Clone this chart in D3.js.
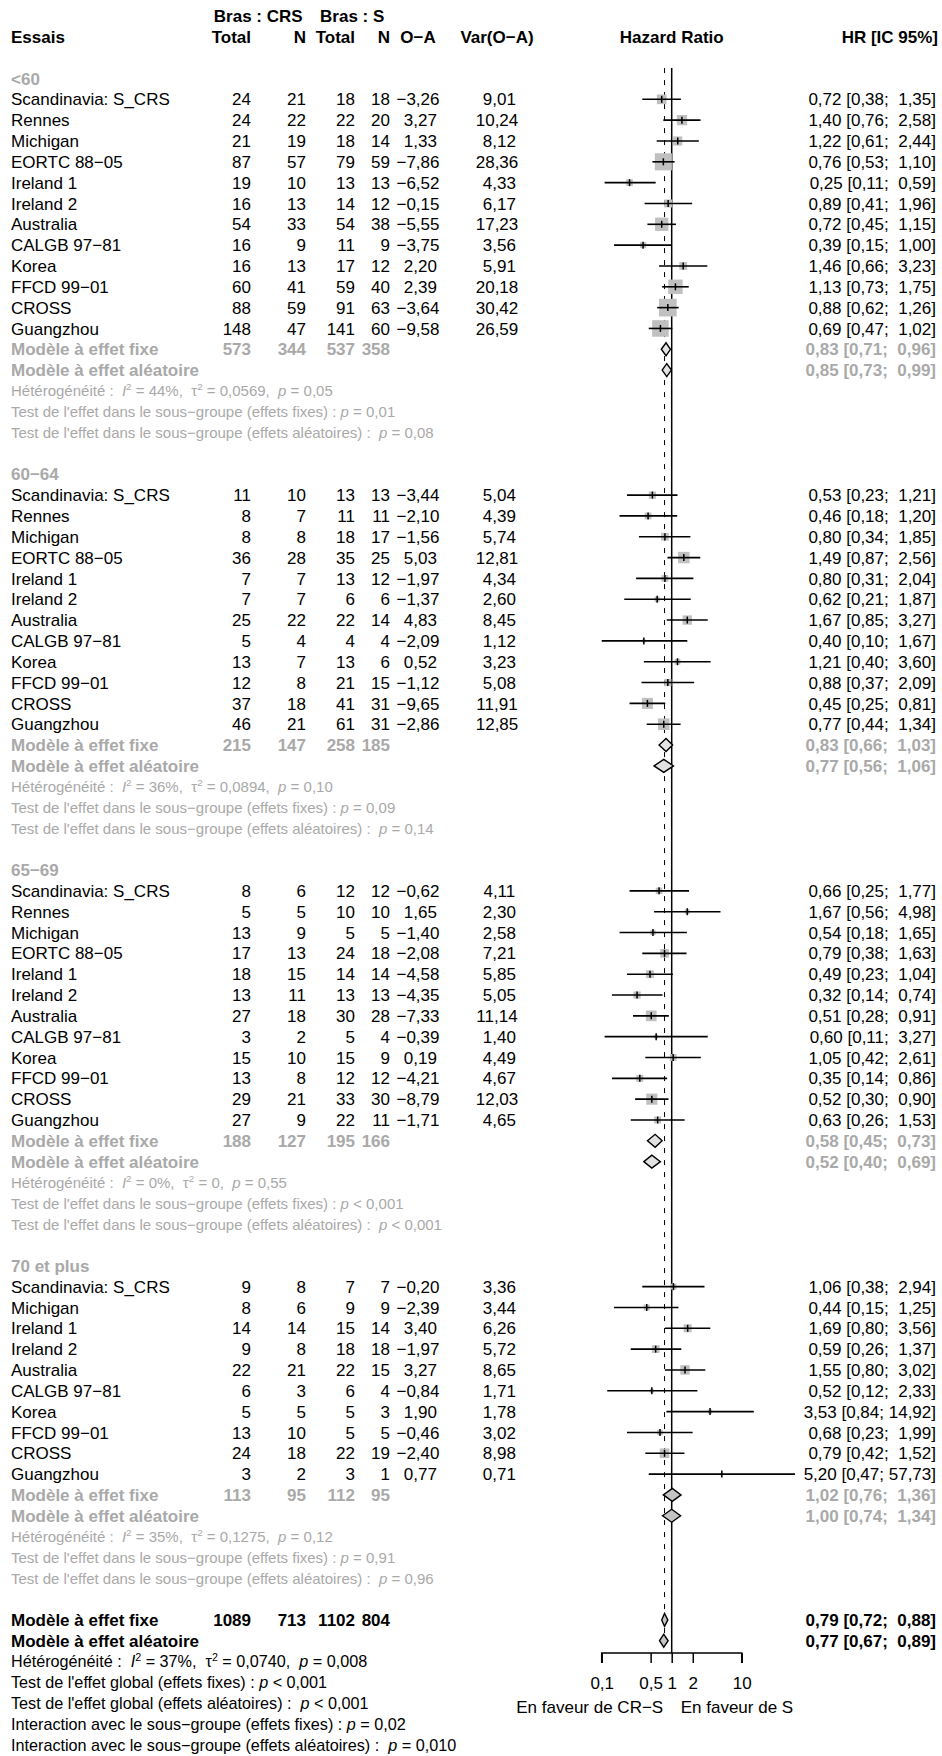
<!DOCTYPE html>
<html><head><meta charset="utf-8">
<script src="https://cdn.jsdelivr.net/npm/d3@7"></script>
<style>
body{margin:0;background:#fff}
svg{display:block}
text{font-family:"Liberation Sans",Arial,Helvetica,sans-serif}
</style>
</head><body>
<svg id="c" width="942" height="1756"></svg>
<script>
// ---------------- data ----------------
const groupLabels = ["<60", "60−64", "65−69", "70 et plus"];
const studyGroup = [0,0,0,0,0,0,0,0,0,0,0,0, 1,1,1,1,1,1,1,1,1,1,1,1, 2,2,2,2,2,2,2,2,2,2,2,2, 3,3,3,3,3,3,3,3,3,3];
const studyNames = [
  "Scandinavia: S_CRS","Rennes","Michigan","EORTC 88−05","Ireland 1","Ireland 2","Australia","CALGB 97−81","Korea","FFCD 99−01","CROSS","Guangzhou",
  "Scandinavia: S_CRS","Rennes","Michigan","EORTC 88−05","Ireland 1","Ireland 2","Australia","CALGB 97−81","Korea","FFCD 99−01","CROSS","Guangzhou",
  "Scandinavia: S_CRS","Rennes","Michigan","EORTC 88−05","Ireland 1","Ireland 2","Australia","CALGB 97−81","Korea","FFCD 99−01","CROSS","Guangzhou",
  "Scandinavia: S_CRS","Michigan","Ireland 1","Ireland 2","Australia","CALGB 97−81","Korea","FFCD 99−01","CROSS","Guangzhou"];
const totalCRS = [24,24,21,87,19,16,54,16,16,60,88,148, 11,8,8,36,7,7,25,5,13,12,37,46, 8,5,13,17,18,13,27,3,15,13,29,27, 9,8,14,9,22,6,5,13,24,3];
const eventsCRS = [21,22,19,57,10,13,33,9,13,41,59,47, 10,7,8,28,7,7,22,4,7,8,18,21, 6,5,9,13,15,11,18,2,10,8,21,9, 8,6,14,8,21,3,5,10,18,2];
const totalS = [18,22,18,79,13,14,54,11,17,59,91,141, 13,11,18,35,13,6,22,4,13,21,41,61, 12,10,5,24,14,13,30,5,15,12,33,22, 7,9,15,18,22,6,5,5,22,3];
const eventsS = [18,20,14,59,13,12,38,9,12,40,63,60, 13,11,17,25,12,6,14,4,6,15,31,31, 12,10,5,18,14,13,28,4,9,12,30,11, 7,9,14,18,15,4,3,5,19,1];
const oMinusA = [-3.26,3.27,1.33,-7.86,-6.52,-0.15,-5.55,-3.75,2.20,2.39,-3.64,-9.58,
  -3.44,-2.10,-1.56,5.03,-1.97,-1.37,4.83,-2.09,0.52,-1.12,-9.65,-2.86,
  -0.62,1.65,-1.40,-2.08,-4.58,-4.35,-7.33,-0.39,0.19,-4.21,-8.79,-1.71,
  -0.20,-2.39,3.40,-1.97,3.27,-0.84,1.90,-0.46,-2.40,0.77];
const varOA = [9.01,10.24,8.12,28.36,4.33,6.17,17.23,3.56,5.91,20.18,30.42,26.59,
  5.04,4.39,5.74,12.81,4.34,2.60,8.45,1.12,3.23,5.08,11.91,12.85,
  4.11,2.30,2.58,7.21,5.85,5.05,11.14,1.40,4.49,4.67,12.03,4.65,
  3.36,3.44,6.26,5.72,8.65,1.71,1.78,3.02,8.98,0.71];
const hr = [0.72,1.40,1.22,0.76,0.25,0.89,0.72,0.39,1.46,1.13,0.88,0.69,
  0.53,0.46,0.80,1.49,0.80,0.62,1.67,0.40,1.21,0.88,0.45,0.77,
  0.66,1.67,0.54,0.79,0.49,0.32,0.51,0.60,1.05,0.35,0.52,0.63,
  1.06,0.44,1.69,0.59,1.55,0.52,3.53,0.68,0.79,5.20];
const hrLow = [0.38,0.76,0.61,0.53,0.11,0.41,0.45,0.15,0.66,0.73,0.62,0.47,
  0.23,0.18,0.34,0.87,0.31,0.21,0.85,0.10,0.40,0.37,0.25,0.44,
  0.25,0.56,0.18,0.38,0.23,0.14,0.28,0.11,0.42,0.14,0.30,0.26,
  0.38,0.15,0.80,0.26,0.80,0.12,0.84,0.23,0.42,0.47];
const hrUp = [1.35,2.58,2.44,1.10,0.59,1.96,1.15,1.00,3.23,1.75,1.26,1.02,
  1.21,1.20,1.85,2.56,2.04,1.87,3.27,1.67,3.60,2.09,0.81,1.34,
  1.77,4.98,1.65,1.63,1.04,0.74,0.91,3.27,2.61,0.86,0.90,1.53,
  2.94,1.25,3.56,1.37,3.02,2.33,14.92,1.99,1.52,57.73];

const subTotalCRS = [573,215,188,113];
const subEventsCRS = [344,147,127,95];
const subTotalS = [537,258,195,112];
const subEventsS = [358,185,166,95];
const subFixedHR = [0.83,0.83,0.58,1.02];
const subFixedLow = [0.71,0.66,0.45,0.76];
const subFixedUp = [0.96,1.03,0.73,1.36];
const subRandomHR = [0.85,0.77,0.52,1.00];
const subRandomLow = [0.73,0.56,0.40,0.74];
const subRandomUp = [0.99,1.06,0.69,1.34];
const subI2 = ["44%","36%","0%","35%"];
const subTau2 = ["0,0569","0,0894","0","0,1275"];
const subHetP = ["= 0,05","= 0,10","= 0,55","= 0,12"];
const subTestFixedP = ["= 0,01","= 0,09","< 0,001","= 0,91"];
const subTestRandomP = ["= 0,08","= 0,14","< 0,001","= 0,96"];

const overallCounts = [1089,713,1102,804];
const overallFixed = [0.79,0.72,0.88];
const overallRandom = [0.77,0.67,0.89];
const overallHet = ["37%","0,0740","= 0,008"];
const overallTestP = ["< 0,001","< 0,001"];
const interactionP = ["= 0,02","= 0,010"];

const axisTicks = [0.1,0.5,1,2,10];
const axisTickLabels = ["0,1","0,5","1","2","10"];

// ---------------- layout ----------------
const svg = d3.select("#c");
const FS = 17, FS_SUBSTAT = 15.0, FS_OVSTAT = 16.2;
const ROW0 = 16, ROWH = 20.83;
const yRow = i => ROW0 + ROWH * i;
const GRAY = "#a9a9a9";
const NB = "\u00A0";

const xLab = 11, xTotC = 251, xNC = 306, xTotS = 355, xNS = 390, xOA = 418, xVar = 497, xHR = 936;
const x = d3.scaleLog().domain([0.1, 10]).range([601.7, 741.7]);

const f2 = v => d3.format(".2f")(v).replace(".", ",");
const padTo = (s, n) => NB.repeat(Math.max(0, n - s.length)) + s;
const ciText = (h, l, u) => `${f2(h)} [${f2(l)}; ${padTo(f2(u), 5)}]`;

function txt(x0, i, s, o = {}) {
  const size = o.size || FS;
  return svg.append("text")
    .attr("x", x0).attr("y", yRow(i) + size * 0.36)
    .attr("font-size", size)
    .attr("font-weight", o.bold ? "bold" : null)
    .attr("text-anchor", o.anchor || "start")
    .attr("fill", o.fill || "#000")
    .text(s);
}
function rich(x0, i, parts, o = {}) {
  const size = o.size || FS_SUBSTAT;
  const t = svg.append("text").attr("x", x0).attr("y", yRow(i) + size * 0.36)
    .attr("font-size", size).attr("fill", o.fill || "#000");
  let shifted = false;
  parts.forEach(p => {
    const s = t.append("tspan").text(p.t);
    if (p.i) s.attr("font-style", "italic");
    if (p.sup) { s.attr("font-size", size * 0.66).attr("dy", -size * 0.42); shifted = true; }
    else if (shifted) { s.attr("dy", size * 0.42); shifted = false; }
  });
}
function hetParts(i2, tau2, p) {
  return [{t: "Hétérogénéité :" + NB + NB}, {t: "I", i: true}, {t: "2", sup: true},
    {t: " = " + i2 + "," + NB + NB + "τ"}, {t: "2", sup: true}, {t: " = " + tau2 + "," + NB + NB},
    {t: "p", i: true}, {t: " " + p}];
}

const gLines = svg.append("g");
const gMarks = svg.append("g");

// headers
const boldW = 40.6;
txt((xTotC - boldW + xNC) / 2, 0, "Bras : CRS", {bold: true, anchor: "middle"});
txt((xTotS - boldW + xNS) / 2, 0, "Bras : S", {bold: true, anchor: "middle"});
txt(xLab, 1, "Essais", {bold: true});
txt(xTotC, 1, "Total", {bold: true, anchor: "end"});
txt(xNC, 1, "N", {bold: true, anchor: "end"});
txt(xTotS, 1, "Total", {bold: true, anchor: "end"});
txt(xNS, 1, "N", {bold: true, anchor: "end"});
txt(xOA, 1, "O−A", {bold: true, anchor: "middle"});
txt(xVar, 1, "Var(O−A)", {bold: true, anchor: "middle"});
txt(x(1), 1, "Hazard Ratio", {bold: true, anchor: "middle"});
txt(938, 1, "HR [IC 95%]", {bold: true, anchor: "end"});

const maxVar = d3.max(varOA);
const boxSide = d3.scaleSqrt().domain([0, maxVar]).range([0, 17.7]);

function diamond(i, h, l, u, fill) {
  const y = yRow(i), dh = 6.5;
  gMarks.append("path")
    .attr("d", `M${x(l)},${y}L${x(h)},${y - dh}L${x(u)},${y}L${x(h)},${y + dh}Z`)
    .attr("fill", fill).attr("stroke", "#000").attr("stroke-width", 1.4);
}

let r = 3;
groupLabels.forEach((gl, g) => {
  txt(xLab, r, gl, {bold: true, fill: GRAY});
  r++;
  studyNames.forEach((name, k) => {
    if (studyGroup[k] !== g) return;
    txt(xLab, r, name);
    txt(xTotC, r, totalCRS[k], {anchor: "end"});
    txt(xNC, r, eventsCRS[k], {anchor: "end"});
    txt(xTotS, r, totalS[k], {anchor: "end"});
    txt(xNS, r, eventsS[k], {anchor: "end"});
    txt(xOA, r, (oMinusA[k] >= 0 ? NB : "") + f2(oMinusA[k]), {anchor: "middle"});
    txt(xVar, r, padTo(f2(varOA[k]), 5), {anchor: "middle"});
    txt(xHR, r, ciText(hr[k], hrLow[k], hrUp[k]), {anchor: "end"});
    const y = yRow(r), s = boxSide(varOA[k]);
    gMarks.append("rect").attr("x", x(hr[k]) - s / 2).attr("y", y - s / 2)
      .attr("width", s).attr("height", s).attr("fill", "#c0c0c0");
    gMarks.append("line").attr("x1", x(hrLow[k])).attr("x2", x(hrUp[k]))
      .attr("y1", y).attr("y2", y).attr("stroke", "#000").attr("stroke-width", 1.6);
    gMarks.append("line").attr("x1", x(hr[k])).attr("x2", x(hr[k]))
      .attr("y1", y - 3.5).attr("y2", y + 3.5).attr("stroke", "#000").attr("stroke-width", 1.5);
    r++;
  });
  // subgroup summaries
  txt(xLab, r, "Modèle à effet fixe", {bold: true, fill: GRAY});
  txt(xTotC, r, subTotalCRS[g], {bold: true, fill: GRAY, anchor: "end"});
  txt(xNC, r, subEventsCRS[g], {bold: true, fill: GRAY, anchor: "end"});
  txt(xTotS, r, subTotalS[g], {bold: true, fill: GRAY, anchor: "end"});
  txt(xNS, r, subEventsS[g], {bold: true, fill: GRAY, anchor: "end"});
  txt(xHR, r, ciText(subFixedHR[g], subFixedLow[g], subFixedUp[g]), {bold: true, fill: GRAY, anchor: "end"});
  const dFill = g < 3 ? "#e2e2e2" : "#c4c4c4";
  diamond(r, subFixedHR[g], subFixedLow[g], subFixedUp[g], dFill);
  txt(xLab, r + 1, "Modèle à effet aléatoire", {bold: true, fill: GRAY});
  txt(xHR, r + 1, ciText(subRandomHR[g], subRandomLow[g], subRandomUp[g]), {bold: true, fill: GRAY, anchor: "end"});
  diamond(r + 1, subRandomHR[g], subRandomLow[g], subRandomUp[g], dFill);
  rich(xLab, r + 2, hetParts(subI2[g], subTau2[g], subHetP[g]), {fill: GRAY});
  rich(xLab, r + 3, [{t: "Test de l'effet dans le sous−groupe (effets fixes) : "}, {t: "p", i: true}, {t: " " + subTestFixedP[g]}], {fill: GRAY});
  rich(xLab, r + 4, [{t: "Test de l'effet dans le sous−groupe (effets aléatoires) : " + NB}, {t: "p", i: true}, {t: " " + subTestRandomP[g]}], {fill: GRAY});
  r += 6;
});

// overall
txt(xLab, r, "Modèle à effet fixe", {bold: true});
txt(xTotC, r, overallCounts[0], {bold: true, anchor: "end"});
txt(xNC, r, overallCounts[1], {bold: true, anchor: "end"});
txt(xTotS, r, overallCounts[2], {bold: true, anchor: "end"});
txt(xNS, r, overallCounts[3], {bold: true, anchor: "end"});
txt(xHR, r, ciText(...overallFixed), {bold: true, anchor: "end"});
diamond(r, ...overallFixed, "#c4c4c4");
txt(xLab, r + 1, "Modèle à effet aléatoire", {bold: true});
txt(xHR, r + 1, ciText(...overallRandom), {bold: true, anchor: "end"});
diamond(r + 1, ...overallRandom, "#c4c4c4");
const ov = {size: FS_OVSTAT};
rich(xLab, r + 2, hetParts(overallHet[0], overallHet[1], overallHet[2]), ov);
rich(xLab, r + 3, [{t: "Test de l'effet global (effets fixes) : "}, {t: "p", i: true}, {t: " " + overallTestP[0]}], ov);
rich(xLab, r + 4, [{t: "Test de l'effet global (effets aléatoires) : " + NB}, {t: "p", i: true}, {t: " " + overallTestP[1]}], ov);
rich(xLab, r + 5, [{t: "Interaction avec le sous−groupe (effets fixes) : "}, {t: "p", i: true}, {t: " " + interactionP[0]}], ov);
rich(xLab, r + 6, [{t: "Interaction avec le sous−groupe (effets aléatoires) : " + NB}, {t: "p", i: true}, {t: " " + interactionP[1]}], ov);

// reference lines
const yTop = yRow(3) - ROWH / 2, yAxis = 1653;
gLines.append("line").attr("x1", x(overallFixed[0])).attr("x2", x(overallFixed[0]))
  .attr("y1", yTop).attr("y2", yRow(r + 1) + ROWH / 2)
  .attr("stroke", "#000").attr("stroke-width", 1).attr("stroke-dasharray", "5,7");
gLines.append("line").attr("x1", x(1)).attr("x2", x(1)).attr("y1", yTop).attr("y2", yAxis)
  .attr("stroke", "#000").attr("stroke-width", 1.5);

// axis
const gAxis = svg.append("g").attr("transform", `translate(0,${yAxis})`);
gAxis.call(d3.axisBottom(x).tickValues(axisTicks).tickFormat((d, i) => axisTickLabels[i]).tickSize(10).tickPadding(14));
gAxis.select(".domain").attr("d", `M${x(0.1)},10V0H${x(10)}V10`).attr("stroke-width", 1.5);
gAxis.selectAll(".tick line").attr("stroke-width", 1.5);
gAxis.selectAll(".tick text").attr("font-size", FS).attr("font-family", "Liberation Sans, Arial, sans-serif");
svg.append("text").attr("x", x(1) - 8.5).attr("y", 1713).attr("font-size", FS)
  .attr("text-anchor", "end").text("En faveur de CR−S");
svg.append("text").attr("x", x(1) + 9).attr("y", 1713).attr("font-size", FS)
  .attr("text-anchor", "start").text("En faveur de S");
</script>
</body></html>
